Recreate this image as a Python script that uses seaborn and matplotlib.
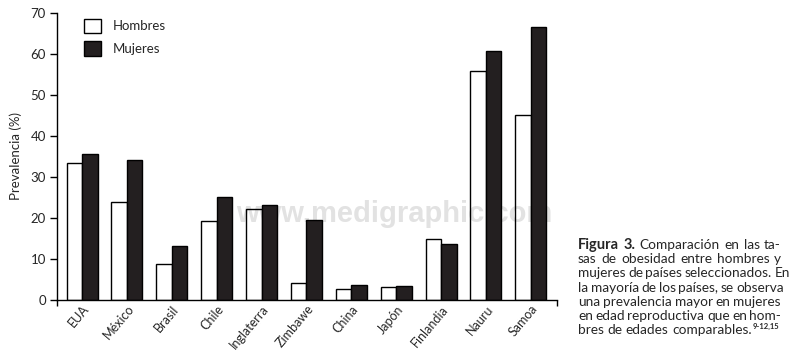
import pandas as pd
import seaborn as sns
import matplotlib.pyplot as plt

# Data
paises = ['EUA', 'México', 'Brasil', 'Chile', 'Inglaterra', 'Zimbawe',
          'China', 'Japón', 'Finlandia', 'Nauru', 'Samoa']
hombres = [33.5, 24.0, 8.9, 19.3, 22.3, 4.1, 2.7, 3.1, 14.9, 55.8, 45.0]
mujeres = [35.5, 34.1, 13.2, 25.1, 23.1, 19.5, 3.6, 3.4, 13.6, 60.7, 66.5]
y_ticks = [0, 10, 20, 30, 40, 50, 60, 70]

caption_lines = [
    'Figura 3. Comparación en las ta-',
    'sas de obesidad entre hombres y',
    'mujeres de países seleccionados. En',
    'la mayoría de los países, se observa',
    'una prevalencia mayor en mujeres',
    'en edad reproductiva que en hom-',
    'bres de edades comparables.',
]
caption_ref = '9-12,15'

df = pd.DataFrame({
    'Pais': paises * 2,
    'Sexo': ['Hombres'] * len(paises) + ['Mujeres'] * len(paises),
    'Prevalencia': hombres + mujeres,
})

sns.set_style('white')
plt.rcParams['font.family'] = ['Lato', 'DejaVu Sans']

fig = plt.figure(figsize=(7.91, 3.63), dpi=100)
ax = fig.add_axes([0.072, 0.173, 0.632, 0.792])

sns.barplot(data=df, x='Pais', y='Prevalencia', hue='Sexo', ax=ax,
            palette={'Hombres': 'white', 'Mujeres': '#231f20'},
            edgecolor='black', linewidth=1, width=0.69, saturation=1)
# outlined bars for men, so the watermark shows through them
for p in ax.patches:
    fc = p.get_facecolor()
    if fc[0] > 0.9:
        p.set_facecolor('none')

# faint watermark behind the bars
ax.text(0.358, 0.30, 'www.medigraphic.com', transform=ax.transAxes,
        fontsize=21, fontweight='bold', color='#e2e2e2', ha='left',
        va='center', zorder=0, clip_on=True,
        family=['Liberation Sans'])

ax.set_xlim(-0.56, 10.58)
ax.set_ylim(0, 70)
ax.set_yticks(y_ticks)
ax.tick_params(axis='y', direction='out', length=5, width=1, labelsize=9.5,
               color='black', left=True, pad=3)
ax.tick_params(axis='x', length=0, labelsize=9, pad=2)
ax.set_xticks([-0.56, 10.58], minor=True)
ax.tick_params(axis='x', which='minor', direction='out', length=4, width=1,
               bottom=True, color='black')
plt.setp(ax.get_xticklabels(), rotation=50, ha='right', rotation_mode='anchor')

for s in ['top', 'right']:
    ax.spines[s].set_visible(False)
for s in ['left', 'bottom']:
    ax.spines[s].set_color('black')
    ax.spines[s].set_linewidth(1)

ax.set_xlabel('')
ax.set_ylabel('Prevalencia (%)', fontsize=9.5, labelpad=6)

ax.legend(loc='upper left', bbox_to_anchor=(0.03, 1.02), frameon=False,
          fontsize=9.5, handlelength=1.3, handleheight=1.3, labelspacing=0.6,
          handletextpad=0.9)

# justified caption on the right
renderer = fig.canvas.get_renderer()
left_px, right_px = 578, 781
top_px, step_px = 245, 14.2
W, H = fig.bbox.width, fig.bbox.height
fs = 9.8
for i, line in enumerate(caption_lines):
    words = line.split(' ')
    y = 1 - (top_px + i * step_px) / H
    texts = []
    for j, w in enumerate(words):
        bold = (i == 0 and j < 2)
        t = fig.text(0, y, w, fontsize=10.5 if bold else fs, va='center',
                     fontweight='bold' if bold else 'normal')
        texts.append(t)
    widths = [t.get_window_extent(renderer).width for t in texts]
    last = i == len(caption_lines) - 1
    if last:
        gap = fs * 0.35
    else:
        gap = max((right_px - left_px - sum(widths)) / (len(words) - 1), 2.5)
    x = left_px
    for t, wd in zip(texts, widths):
        t.set_x(x / W)
        x += wd + gap
    if last:
        fig.text((x - gap + 1) / W, y + 4 / H, caption_ref, fontsize=5.5,
                 fontweight='bold', va='center')

plt.savefig('out.png', dpi=100)
